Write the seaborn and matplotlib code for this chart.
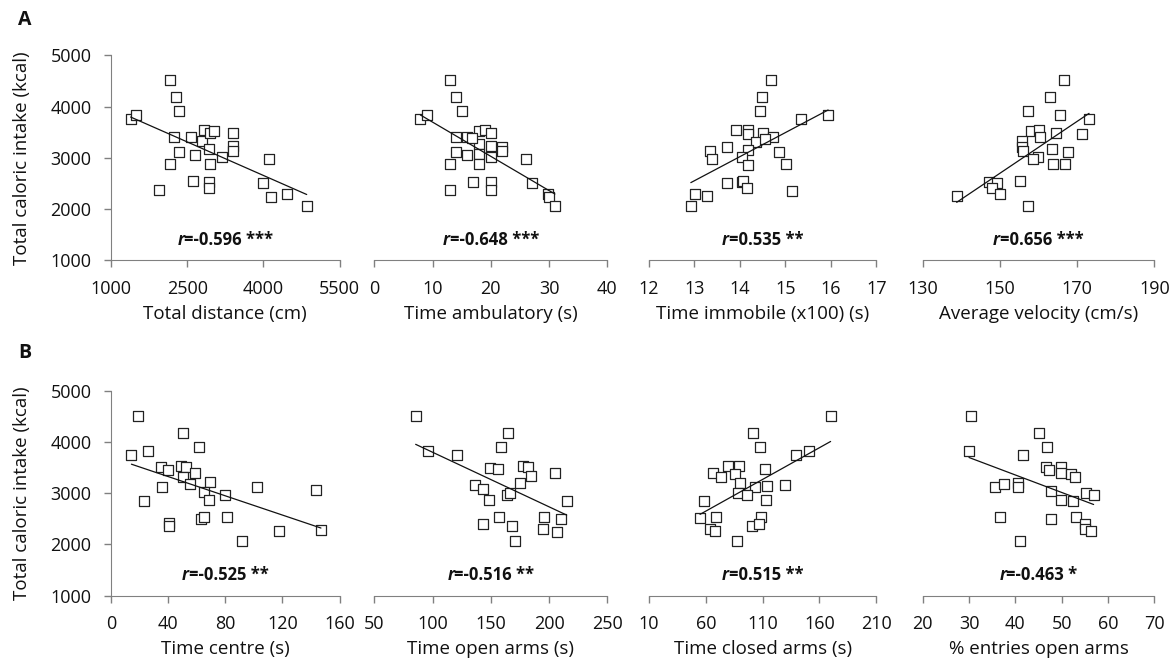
import matplotlib
matplotlib.use("Agg")

import matplotlib.pyplot as plt
import seaborn as sns
from matplotlib.offsetbox import TextArea, HPacker, AnnotationBbox

# Row A: open field measures vs total caloric intake
dist_x = [1387, 1492, 2162, 2274, 2346, 2234, 2339, 2162, 1945, 2569, 2648, 2622, 2832, 2793, 2950,
          2937, 2944, 2937, 2937, 3022, 3180, 3410, 3410, 3410, 4105, 4000, 4151, 4473, 4854]
dist_y = [3756, 3834, 4511, 4192, 3919, 3404, 3117, 2876, 2362, 3397, 3059, 2544, 3541, 3332, 3476,
          3169, 2876, 2531, 2401, 3528, 3007, 3476, 3235, 3137, 2967, 2505, 2244, 2296, 2062]

amb_x = [7.9, 9.0, 13.0, 14.0, 15.0, 14.0, 14.0, 13.0, 13.0, 15.9, 15.9, 17.0, 18.0, 18.0, 18.0,
         18.0, 19.0, 20.0, 20.0, 20.0, 20.0, 20.0, 22.0, 22.0, 26.0, 27.0, 29.9, 30.0, 31.0, 16.8]
amb_y = [3756, 3834, 4511, 4186, 3912, 3410, 3117, 2876, 2362, 3397, 3059, 2537, 3528, 3267, 3072,
         2876, 3541, 3476, 3235, 3020, 2531, 2381, 3215, 3137, 2967, 2505, 2296, 2244, 2062, 3390]

immob_x = [14.68, 14.49, 14.45, 15.35, 15.94, 13.91, 14.18, 14.18, 14.51, 14.73, 14.35, 13.72, 13.34,
           13.39, 14.18, 14.04, 14.86, 14.17, 15.01, 13.71, 14.04, 14.07, 14.16, 15.14, 13.02, 13.28,
           12.92, 14.55]
immob_y = [4511, 4179, 3912, 3756, 3834, 3534, 3541, 3463, 3489, 3410, 3313, 3215, 3137, 2974, 3150,
           3020, 3117, 2863, 2870, 2511, 2531, 2550, 2401, 2355, 2303, 2251, 2068, 3360]

vel_x = [166.7, 163.1, 157.4, 165.6, 173.1, 171.2, 158.0, 160.2, 164.5, 160.4, 155.6, 155.6, 155.9,
         163.4, 167.7, 159.9, 158.6, 163.8, 166.8, 155.2, 147.3, 149.2, 147.9, 150.0, 138.8, 157.4]
vel_y = [4511, 4186, 3912, 3834, 3756, 3469, 3528, 3541, 3489, 3410, 3332, 3215, 3137, 3169, 3117,
         3020, 2967, 2876, 2876, 2544, 2531, 2511, 2401, 2303, 2251, 2068]

# Row B: elevated plus maze measures vs total caloric intake
centre_x = [19.0, 14.3, 26.1, 50.6, 61.5, 34.9, 39.7, 49.2, 52.3, 50.4, 58.7, 55.1, 69.6, 35.4,
            65.3, 68.6, 79.6, 23.0, 62.7, 65.1, 81.5, 40.4, 40.4, 102.4, 91.9, 117.6, 143.7, 147.0]
centre_y = [4506, 3751, 3823, 4180, 3907, 3504, 3452, 3530, 3504, 3322, 3387, 3179, 3218, 3114,
            3016, 2867, 2971, 2854, 2496, 2541, 2528, 2411, 2359, 3127, 2067, 2268, 3055, 2281]

open_x = [85.5, 96.4, 121.2, 164.7, 158.7, 149.3, 156.4, 177.3, 182.2, 184.2, 204.8, 175.0, 136.4,
          143.6, 163.6, 166.4, 148.7, 215.1, 157.3, 143.0, 168.5, 170.5, 195.6, 194.5, 209.9, 206.5]
open_y = [4506, 3823, 3751, 4180, 3907, 3485, 3465, 3530, 3504, 3335, 3387, 3205, 3160, 3088,
          2971, 3010, 2860, 2854, 2528, 2392, 2359, 2067, 2528, 2301, 2496, 2249]

closed_x = [169.8, 101.2, 107.7, 139.3, 151.1, 79.8, 89.5, 66.6, 73.0, 85.7, 111.8, 129.9, 90.1,
            103.3, 113.5, 88.6, 95.9, 112.9, 58.4, 54.9, 68.9, 63.7, 68.4, 108.8, 100.3, 107.1, 87.7]
closed_y = [4506, 4167, 3907, 3745, 3823, 3530, 3530, 3387, 3322, 3374, 3465, 3166, 3205, 3114,
            3140, 3010, 2971, 2867, 2854, 2509, 2541, 2301, 2255, 2528, 2359, 2392, 2067]

entries_x = [30.4, 30.0, 41.6, 45.0, 46.9, 46.6, 47.2, 49.9, 49.9, 52.0, 52.9, 35.7, 37.5, 40.6,
             40.6, 47.6, 49.9, 52.5, 55.2, 56.9, 36.7, 47.6, 53.0, 55.1, 55.0, 56.4, 40.9]
entries_y = [4506, 3823, 3751, 4167, 3907, 3504, 3452, 3517, 3400, 3374, 3322, 3114, 3173, 3205,
             3127, 3049, 2867, 2854, 3010, 2971, 2528, 2502, 2541, 2398, 2301, 2255, 2067]

x_labels = ["Total distance (cm)", "Time ambulatory (s)", "Time immobile (x100) (s)",
            "Average velocity (cm/s)", "Time centre (s)", "Time open arms (s)",
            "Time closed arms (s)", "% entries open arms"]
x_ticks = [[1000, 2500, 4000, 5500], [0, 10, 20, 30, 40], [12, 13, 14, 15, 16, 17],
           [130, 150, 170, 190], [0, 40, 80, 120, 160], [50, 100, 150, 200, 250],
           [10, 60, 110, 160, 210], [20, 30, 40, 50, 60, 70]]
r_values = ["=-0.596 ***", "=-0.648 ***", "=0.535 **", "=0.656 ***",
            "=-0.525 **", "=-0.516 **", "=0.515 **", "=-0.463 *"]
y_ticks = [1000, 2000, 3000, 4000, 5000]

panel_data = [(dist_x, dist_y), (amb_x, amb_y), (immob_x, immob_y), (vel_x, vel_y),
              (centre_x, centre_y), (open_x, open_y), (closed_x, closed_y), (entries_x, entries_y)]

sns.set_style("ticks")
plt.rcParams["font.family"] = ["Open Sans", "DejaVu Sans"]
plt.rcParams["axes.edgecolor"] = "#808080"
plt.rcParams["xtick.color"] = "#808080"
plt.rcParams["ytick.color"] = "#808080"
plt.rcParams["xtick.labelcolor"] = "#111111"
plt.rcParams["ytick.labelcolor"] = "#111111"

W, H = 1174, 663
fig = plt.figure(figsize=(W / 100, H / 100), dpi=100)

col_left = [111, 374.3, 649, 922.7]
col_width = [228.5, 233, 227.3, 231.6]
row_top = [55.3, 390.7]
row_h = 205

for i, ((xs, ys), xlab, ticks, rtxt) in enumerate(zip(panel_data, x_labels, x_ticks, r_values)):
    row, col = divmod(i, 4)
    rect = [col_left[col] / W, (H - row_top[row] - row_h) / H, col_width[col] / W, row_h / H]
    ax = fig.add_axes(rect)
    sns.regplot(
        x=xs, y=ys, ax=ax, ci=None, marker="s", color="black",
        scatter_kws={"s": 62, "facecolors": "white", "edgecolors": "#222222",
                     "linewidths": 0.9, "alpha": 1, "zorder": 2},
        line_kws={"color": "#111111", "linewidth": 0.9, "zorder": 3},
    )
    ax.set_xlim(ticks[0], ticks[-1])
    ax.set_xticks(ticks)
    ax.set_ylim(1000, 5000)
    ax.tick_params(labelsize=13, length=5, width=1, pad=9)
    ax.set_xlabel(xlab, fontsize=13.5, labelpad=5, color="#111111")
    if col == 0:
        ax.set_yticks(y_ticks)
        ax.set_ylabel("Total caloric intake (kcal)", fontsize=13.5, labelpad=14, color="#111111")
        sns.despine(ax=ax)
    else:
        ax.set_yticks([])
        ax.set_ylabel("")
        sns.despine(ax=ax, left=True)

    box = HPacker(children=[
        TextArea("r", textprops=dict(fontsize=12, fontweight="bold", fontstyle="italic", color="#111111")),
        TextArea(rtxt, textprops=dict(fontsize=12, fontweight="bold", color="#111111")),
    ], pad=0, sep=0, align="baseline")
    ab = AnnotationBbox(box, (0.5, 0.1), xycoords="axes fraction", frameon=False,
                        box_alignment=(0.5, 0.5))
    ax.add_artist(ab)

fig.text(18 / W, 1 - 20 / H, "A", fontsize=14, fontweight="bold", va="center", color="#111111")
fig.text(18 / W, 1 - 353 / H, "B", fontsize=14, fontweight="bold", va="center", color="#111111")

fig.savefig("out.png", dpi=100)
